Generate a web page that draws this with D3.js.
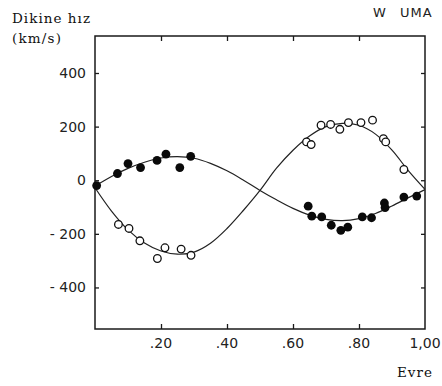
<!DOCTYPE html>
<html><head><meta charset="utf-8">
<script src="https://cdn.jsdelivr.net/npm/d3@7"></script>
<style>body{margin:0;background:#fff}svg{display:block}</style>
</head><body>
<svg id="c" width="442" height="386"></svg>
<script>
// ---- data ----
const filledPhase = [0.005,0.068,0.100,0.138,0.188,0.215,0.257,0.290,0.646,0.657,0.687,0.716,0.745,0.766,0.810,0.838,0.877,0.879,0.936,0.975];
const filledVel   = [-20,25,62,47,74,97,47,89,-97,-134,-137,-168,-187,-175,-137,-140,-85,-102,-63,-59];
const openPhase = [0.071,0.103,0.136,0.189,0.212,0.261,0.291,0.641,0.655,0.685,0.714,0.742,0.768,0.806,0.841,0.874,0.881,0.936];
const openVel   = [-165,-180,-226,-292,-252,-257,-280,143,133,205,208,190,215,215,224,155,143,40];
const curvePhase  = [0,0.05,0.10,0.15,0.20,0.25,0.30,0.35,0.40,0.45,0.50,0.55,0.60,0.65,0.70,0.75,0.80,0.85,0.90,0.95,1.00];
const curveFilled = [-22,14,44,67,83,88,82,63,35,0,-38,-73,-105,-130,-146,-151,-143,-124,-96,-65,-35];
const curveOpen   = [-28,-115,-185,-234,-264,-276,-268,-235,-180,-112,-38,45,112,165,200,212,205,172,112,35,-34];
const xTicks = [0.2,0.4,0.6,0.8,1.0];
const xTickLabels = [".20",".40",".60",".80","1,00"];
const yTicks = [400,200,0,-200,-400];
const yTickLabels = ["400","200","0","- 200","- 400"];

// ---- layout ----
const svg = d3.select("#c");
const L=95, R=425, T=36, B=329;
const x = d3.scaleLinear().domain([0,1]).range([L,R]);
const y = d3.scaleLinear().domain([-555,538]).range([B,T]);
const ink = "#1a1a1a";

// frame
svg.append("rect").attr("x",L).attr("y",T).attr("width",R-L).attr("height",B-T)
  .attr("fill","none").attr("stroke",ink).attr("stroke-width",1.5);

// axes ticks (inward) via d3 axes
const tickInner = xTicks.filter(d=>d<1);
const styleTicks = g=>{g.select(".domain").remove();g.selectAll("line").attr("stroke",ink).attr("stroke-width",1.3);};
svg.append("g").attr("transform",`translate(0,${B})`)
  .call(d3.axisTop(x).tickValues(tickInner).tickSize(5).tickFormat("")).call(styleTicks);
svg.append("g").attr("transform",`translate(0,${T})`)
  .call(d3.axisBottom(x).tickValues(tickInner).tickSize(5).tickFormat("")).call(styleTicks);
svg.append("g").attr("transform",`translate(${L},0)`)
  .call(d3.axisRight(y).tickValues(yTicks).tickSize(4).tickFormat("")).call(styleTicks);
svg.append("g").attr("transform",`translate(${R},0)`)
  .call(d3.axisLeft(y).tickValues(yTicks).tickSize(4).tickFormat("")).call(styleTicks);

// tick labels
const tf = "'DejaVu Sans', sans-serif";
svg.append("g").selectAll("text").data(xTicks).join("text")
  .attr("x",d=>x(d)).attr("y",348).attr("text-anchor","middle")
  .attr("font-family",tf).attr("font-size",14).attr("fill","#222")
  .text((d,i)=>xTickLabels[i]);
svg.append("g").selectAll("text").data(yTicks).join("text")
  .attr("x",86).attr("y",d=>y(d)+5).attr("text-anchor","end")
  .attr("font-family",tf).attr("font-size",14).attr("fill","#222")
  .attr("xml:space","preserve")
  .text((d,i)=>yTickLabels[i]);

// curves
const line = d3.line().curve(d3.curveCatmullRom.alpha(0.5));
const mk = arr => line(curvePhase.map((p,i)=>[x(p),y(arr[i])]));
svg.append("path").attr("d",mk(curveFilled)).attr("fill","none").attr("stroke","#222").attr("stroke-width",1.2);
svg.append("path").attr("d",mk(curveOpen)).attr("fill","none").attr("stroke","#222").attr("stroke-width",1.2);

// points
svg.append("g").selectAll("circle").data(openPhase).join("circle")
  .attr("cx",d=>x(d)).attr("cy",(d,i)=>y(openVel[i])).attr("r",3.8)
  .attr("fill","#fff").attr("stroke","#111").attr("stroke-width",1.3);
svg.append("g").selectAll("circle").data(filledPhase).join("circle")
  .attr("cx",d=>x(d)).attr("cy",(d,i)=>y(filledVel[i])).attr("r",4.4)
  .attr("fill","#0a0a0a");

// titles
const sf = "'DejaVu Serif', serif";
svg.append("text").attr("x",12).attr("y",23).attr("font-family",sf).attr("font-size",13.5)
  .attr("textLength",78).attr("fill","#111").text("Dikine hız");
svg.append("text").attr("x",12).attr("y",43).attr("font-family",sf).attr("font-size",13.5)
  .attr("textLength",49).attr("fill","#111").text("(km/s)");
svg.append("text").attr("x",373).attr("y",17).attr("font-family",tf).attr("font-size",13)
  .attr("fill","#222").text("W");
svg.append("text").attr("x",400).attr("y",17).attr("font-family",tf).attr("font-size",13)
  .attr("letter-spacing",1).attr("fill","#222").text("UMA");
svg.append("text").attr("x",397).attr("y",377).attr("font-family",sf).attr("font-size",13.5)
  .attr("textLength",35).attr("fill","#111").text("Evre");
</script>
</body></html>
